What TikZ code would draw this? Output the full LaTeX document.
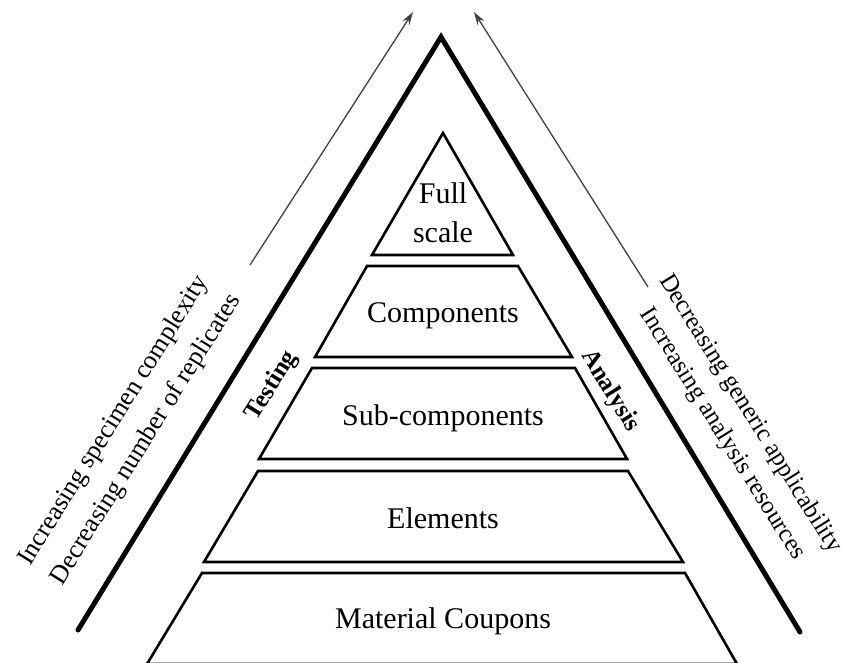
\documentclass[tikz,border=0pt]{standalone}
\usepackage{fontspec}
\setmainfont{Liberation Serif}
\usetikzlibrary{arrows.meta}

\begin{document}
\begin{tikzpicture}[x=1pt, y=-1pt,
        layer/.style={draw, line width=2.6pt, line join=miter},
        frame/.style={draw, line width=5pt, line cap=round, line join=miter},
        trend/.style={draw=black!75, line width=1.3pt, -{Stealth[length=13pt, width=8pt]}},
        lbl/.style={font=\fontsize{30}{39}\selectfont, align=center, inner sep=0pt},
        side/.style={font=\fontsize{26}{30}\selectfont, inner sep=0pt},
        rside/.style={font=\fontsize{25}{30}\selectfont, inner sep=0pt},
        tag/.style={font=\fontsize{25}{30}\selectfont\bfseries, inner sep=0pt}
      ]
      \useasboundingbox (0,0) rectangle (844,663);

      % outer frame
      \coordinate (apex) at (441,37);
      \coordinate (fl) at (78,630);
      \coordinate (fr) at (800,632);
      \draw[frame] (fl) -- (apex) -- (fr);

      % trend arrows
      \coordinate (l0) at (250,265);
      \coordinate (l1) at (413,12);
      \coordinate (r0) at (648,287);
      \coordinate (r1) at (474,12);
      \draw[trend] (l0) -- (l1);
      \draw[trend] (r0) -- (r1);

      % layers
      \draw[layer] (443,133) -- (513,255) -- (372,255) -- cycle;
      \draw[layer] (367,266) -- (518,266) -- (572,357) -- (315,357) -- cycle;
      \draw[layer] (312,368) -- (575,368) -- (627,459) -- (259,459) -- cycle;
      \draw[layer] (258,471) -- (628,471) -- (683,562) -- (204,562) -- cycle;
      \draw[layer] (202,573) -- (685,573) -- (737,664) -- (147,664) -- cycle;

      % layer labels
      \node[lbl] (full) at (443,213) {Full\\scale};
      \node[lbl, anchor=base] (comp) at (443,323) {Components};
      \node[lbl, anchor=base] (sub) at (443,425) {Sub-components};
      \node[lbl, anchor=base] (elem) at (443,528) {Elements};
      \node[lbl, anchor=base] (coup) at (443,628) {Material Coupons};

      % side labels
      \node[tag, rotate=58] (test) at (272,386) {Testing};
      \node[tag, rotate=-58] (anal) at (610,391) {Analysis};
      \node[side, rotate=58] (cmplx) at (114,421) {Increasing specimen complexity};
      \node[side, rotate=58] (repl) at (146,440) {Decreasing number of replicates};
      \node[rside, rotate=-58] (gen) at (750,414) {Decreasing generic applicability};
      \node[rside, rotate=-58] (res) at (722,434) {Increasing analysis resources};
  \end{tikzpicture}
\end{document}
